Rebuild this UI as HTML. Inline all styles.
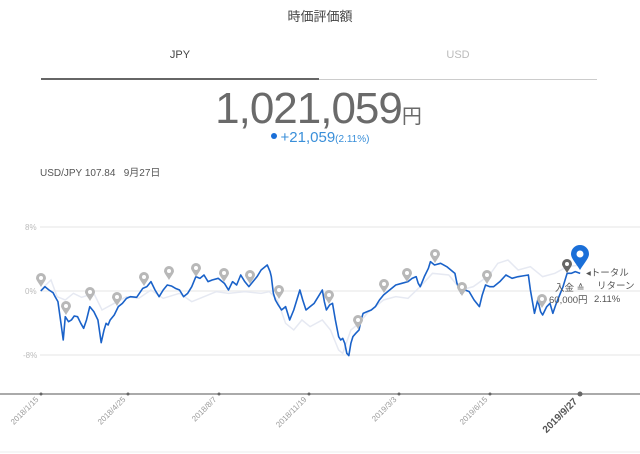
<!DOCTYPE html>
<html><head><meta charset="utf-8"><style>
body{margin:0;width:640px;height:454px;background:#fff;font-family:"Liberation Sans","Noto Sans CJK JP",sans-serif;overflow:hidden;position:relative}
.a{position:absolute;white-space:nowrap}
</style></head><body>
<div class="a" style="left:0;width:640px;top:6px;text-align:center;font-size:13px;color:#444">時価評価額</div>
<div class="a" style="left:41px;width:278px;top:49px;text-align:center;font-size:11px;color:#444">JPY</div>
<div class="a" style="left:319px;width:278px;top:49px;text-align:center;font-size:11px;color:#bbb">USD</div>
<div class="a" style="left:41px;width:278px;top:78px;height:2px;background:#666"></div>
<div class="a" style="left:319px;width:278px;top:79px;height:1px;background:#ccc"></div>
<div class="a" style="left:0;width:640px;top:84px;text-align:center;color:#6a6a6a;font-size:44px;letter-spacing:-1px"><span style="margin-left:-4px">1,021,059</span><span style="font-size:20px">円</span></div>
<div class="a" style="left:0;width:640px;top:129px;text-align:center;color:#3a8fd9;font-size:15px"><span style="display:inline-block;width:6px;height:6px;border-radius:3px;background:#1a6fd8;vertical-align:3px;margin-right:4px"></span>+21,059<span style="font-size:10px">(2.11%)</span></div>
<div class="a" style="left:40px;top:164px;font-size:10px;color:#555">USD/JPY 107.84&nbsp;&nbsp; 9月27日</div>
<svg class="a" style="left:0;top:0" width="640" height="454">
<g stroke="#eee" stroke-width="1.5"><line x1="40" x2="640" y1="227" y2="227"/><line x1="40" x2="640" y1="291" y2="291"/><line x1="40" x2="640" y1="355" y2="355"/></g>
<g font-size="8" fill="#bbb"><text x="25" y="230">8%</text><text x="25" y="294">0%</text><text x="23" y="358">-8%</text></g>
<line x1="0" x2="640" y1="394" y2="394" stroke="#777" stroke-width="1.2"/>
<line x1="0" x2="640" y1="452" y2="452" stroke="#eee"/>
<g fill="#666"><circle cx="41" cy="394" r="1.5"/><circle cx="128" cy="394" r="1.5"/><circle cx="219" cy="394" r="1.5"/><circle cx="309" cy="394" r="1.5"/><circle cx="399" cy="394" r="1.5"/><circle cx="490" cy="394" r="1.5"/><circle cx="580" cy="394" r="2.5"/></g>
<g font-size="8" fill="#999" text-anchor="end">
<text transform="translate(39,400) rotate(-45)">2018/1/15</text>
<text transform="translate(126,400) rotate(-45)">2018/4/25</text>
<text transform="translate(217,400) rotate(-45)">2018/8/7</text>
<text transform="translate(307,400) rotate(-45)">2018/11/19</text>
<text transform="translate(397,400) rotate(-45)">2019/3/3</text>
<text transform="translate(488,400) rotate(-45)">2019/6/15</text>
<text transform="translate(578,402) rotate(-45)" font-size="10" font-weight="bold" fill="#555">2019/9/27</text>
</g>
<g transform="translate(0,210) scale(0.408,0.3333)">
<path fill="none" stroke="#e6e9f2" stroke-width="1.5" vector-effect="non-scaling-stroke" d="M100,240 L125,210 140,260 160,270 180,250 200,262 230,250 250,300 280,280 310,260 340,265 370,240 400,265 440,250 470,275 500,260 530,245 560,250 600,245 640,250 660,245 680,270 700,340 720,360 740,330 760,350 790,330 810,360 830,420 840,430 860,360 880,340 900,310 940,270 970,260 1000,265 1030,230 1060,190 1100,195 1130,240 1160,230 1200,195 1220,160 1245,150 1270,180 1300,170 1330,200 1360,190 1390,170 1422,165"/>
<path fill="none" stroke="#1a62c9" stroke-width="1.6" vector-effect="non-scaling-stroke" stroke-linejoin="round" d="M100,243 L110,230 120,240 130,248 135,260 142,275 150,345 155,390 160,320 168,335 175,330 182,318 190,320 198,340 205,355 212,330 220,290 230,305 240,330 248,398 255,360 260,340 265,345 270,330 280,315 290,290 300,280 310,265 320,260 335,262 350,235 360,230 370,215 380,240 390,260 400,240 410,225 420,228 430,235 440,240 450,260 460,250 470,230 480,200 490,205 500,195 510,215 520,210 535,205 550,220 560,240 570,215 580,225 590,195 600,215 610,230 620,215 630,200 640,180 655,165 662,185 665,200 670,250 675,270 682,285 690,300 700,290 710,330 720,300 730,260 735,240 742,270 750,300 760,290 770,280 780,260 790,240 795,275 800,300 808,285 815,280 822,330 830,380 835,390 840,385 845,400 850,430 855,437 860,400 865,380 872,370 880,360 885,330 890,310 900,305 910,300 920,290 930,270 940,255 955,240 970,225 985,220 1000,215 1010,205 1020,200 1025,220 1030,230 1040,200 1050,175 1055,155 1065,165 1080,160 1095,170 1115,190 1120,220 1130,250 1140,240 1150,245 1162,270 1175,290 1182,255 1190,225 1200,230 1210,230 1225,215 1240,195 1255,205 1270,200 1280,198 1295,195 1300,240 1310,310 1318,270 1325,305 1330,315 1340,290 1348,280 1355,310 1362,285 1370,260 1380,230 1390,190 1400,190 1410,185 1422,190"/>
</g>
<g fill="#b8b8b8">
<g transform="translate(41,279)"><path d="M0,8 C-3,3 -5,1 -5,-1 A5,5 0 1 1 5,-1 C5,1 3,3 0,8Z"/><circle r="2" cy="-1" fill="#fff"/></g>
<g transform="translate(66,307)"><path d="M0,8 C-3,3 -5,1 -5,-1 A5,5 0 1 1 5,-1 C5,1 3,3 0,8Z"/><circle r="2" cy="-1" fill="#fff"/></g>
<g transform="translate(90,293)"><path d="M0,8 C-3,3 -5,1 -5,-1 A5,5 0 1 1 5,-1 C5,1 3,3 0,8Z"/><circle r="2" cy="-1" fill="#fff"/></g>
<g transform="translate(117,298)"><path d="M0,8 C-3,3 -5,1 -5,-1 A5,5 0 1 1 5,-1 C5,1 3,3 0,8Z"/><circle r="2" cy="-1" fill="#fff"/></g>
<g transform="translate(144,278)"><path d="M0,8 C-3,3 -5,1 -5,-1 A5,5 0 1 1 5,-1 C5,1 3,3 0,8Z"/><circle r="2" cy="-1" fill="#fff"/></g>
<g transform="translate(169,272)"><path d="M0,8 C-3,3 -5,1 -5,-1 A5,5 0 1 1 5,-1 C5,1 3,3 0,8Z"/><circle r="2" cy="-1" fill="#fff"/></g>
<g transform="translate(196,269)"><path d="M0,8 C-3,3 -5,1 -5,-1 A5,5 0 1 1 5,-1 C5,1 3,3 0,8Z"/><circle r="2" cy="-1" fill="#fff"/></g>
<g transform="translate(224,274)"><path d="M0,8 C-3,3 -5,1 -5,-1 A5,5 0 1 1 5,-1 C5,1 3,3 0,8Z"/><circle r="2" cy="-1" fill="#fff"/></g>
<g transform="translate(250,276)"><path d="M0,8 C-3,3 -5,1 -5,-1 A5,5 0 1 1 5,-1 C5,1 3,3 0,8Z"/><circle r="2" cy="-1" fill="#fff"/></g>
<g transform="translate(279,291)"><path d="M0,8 C-3,3 -5,1 -5,-1 A5,5 0 1 1 5,-1 C5,1 3,3 0,8Z"/><circle r="2" cy="-1" fill="#fff"/></g>
<g transform="translate(329,296)"><path d="M0,8 C-3,3 -5,1 -5,-1 A5,5 0 1 1 5,-1 C5,1 3,3 0,8Z"/><circle r="2" cy="-1" fill="#fff"/></g>
<g transform="translate(358,321)"><path d="M0,8 C-3,3 -5,1 -5,-1 A5,5 0 1 1 5,-1 C5,1 3,3 0,8Z"/><circle r="2" cy="-1" fill="#fff"/></g>
<g transform="translate(384,285)"><path d="M0,8 C-3,3 -5,1 -5,-1 A5,5 0 1 1 5,-1 C5,1 3,3 0,8Z"/><circle r="2" cy="-1" fill="#fff"/></g>
<g transform="translate(407,274)"><path d="M0,8 C-3,3 -5,1 -5,-1 A5,5 0 1 1 5,-1 C5,1 3,3 0,8Z"/><circle r="2" cy="-1" fill="#fff"/></g>
<g transform="translate(435,255)"><path d="M0,8 C-3,3 -5,1 -5,-1 A5,5 0 1 1 5,-1 C5,1 3,3 0,8Z"/><circle r="2" cy="-1" fill="#fff"/></g>
<g transform="translate(462,288)"><path d="M0,8 C-3,3 -5,1 -5,-1 A5,5 0 1 1 5,-1 C5,1 3,3 0,8Z"/><circle r="2" cy="-1" fill="#fff"/></g>
<g transform="translate(487,276)"><path d="M0,8 C-3,3 -5,1 -5,-1 A5,5 0 1 1 5,-1 C5,1 3,3 0,8Z"/><circle r="2" cy="-1" fill="#fff"/></g>
<g transform="translate(542,300)"><path d="M0,8 C-3,3 -5,1 -5,-1 A5,5 0 1 1 5,-1 C5,1 3,3 0,8Z"/><circle r="2" cy="-1" fill="#fff"/></g>
<g transform="translate(567,265)" fill="#666"><path d="M0,8 C-3,3 -5,1 -5,-1 A5,5 0 1 1 5,-1 C5,1 3,3 0,8Z"/><circle r="2" cy="-1" fill="#fff"/></g>
<g transform="translate(580,255)" fill="#1a6fd8"><path d="M0,15 C-5,7 -9,3 -9,-1 A9,9 0 1 1 9,-1 C9,3 5,7 0,15Z"/><circle r="3.5" cy="-1" fill="#fff"/></g>
</g>
<g font-size="9.5" fill="#555">
<text x="586" y="276">◂トータル</text>
<text x="597" y="289">リターン</text>
<text x="594" y="302">2.11%</text>
<text x="555" y="291">入金 ≙</text>
<text x="549" y="303">60,000円</text>
</g>
</svg>
</body></html>
